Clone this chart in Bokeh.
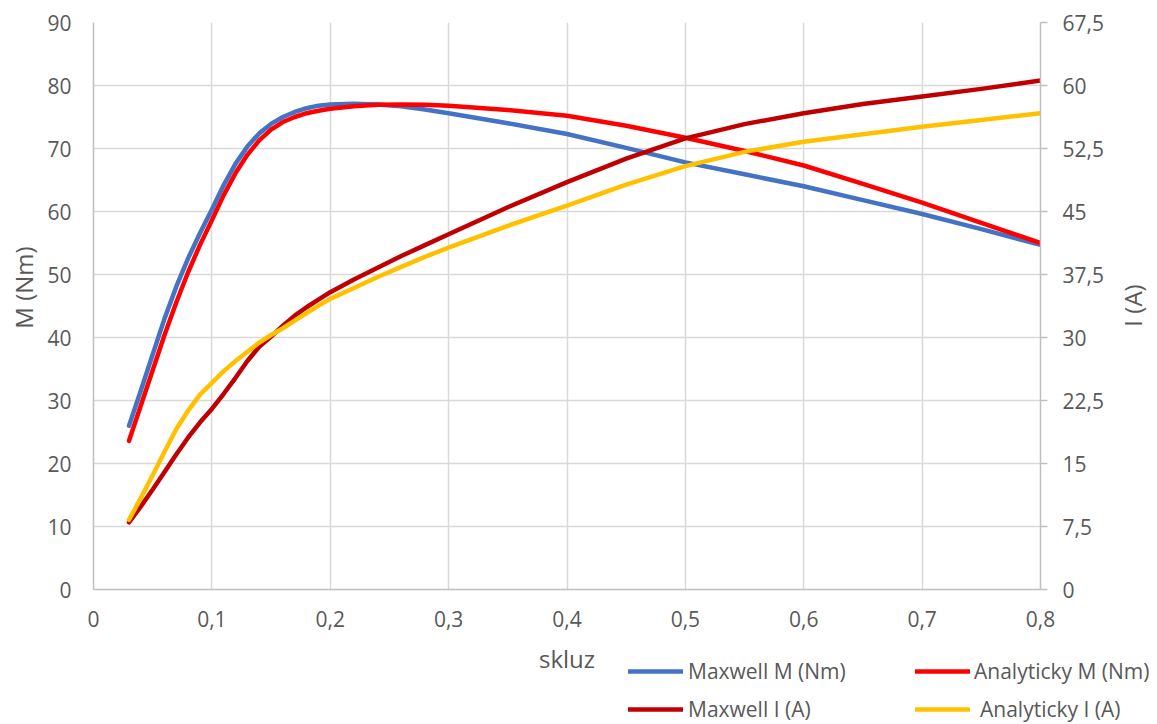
import math
from bokeh.plotting import figure
from bokeh.layouts import column, row
from bokeh.models import (Range1d, LinearAxis, FixedTicker, Legend, LegendItem, Label, Grid)
from bokeh.embed import file_html
from bokeh.resources import INLINE

# ---------------- data ----------------
skluz = [0.03, 0.04, 0.05, 0.06, 0.07, 0.08, 0.09, 0.1, 0.11, 0.12, 0.13, 0.14, 0.15,
         0.16, 0.17, 0.18, 0.19, 0.2, 0.22, 0.24, 0.26, 0.28, 0.3,
         0.35, 0.4, 0.45, 0.5, 0.55, 0.6, 0.65, 0.7, 0.75, 0.8]
maxwell_M = [26.0, 31.6, 37.3, 43.0, 48.1, 52.6, 56.6, 60.3, 64.2, 67.6, 70.3, 72.4, 73.9,
             75.0, 75.8, 76.4, 76.8, 77.0, 77.1, 77.0, 76.7, 76.2, 75.6,
             74.0, 72.3, 70.1, 67.8, 65.9, 64.0, 61.8, 59.6, 57.2, 54.7]
analyticky_M = [23.6, 29.2, 34.8, 40.4, 45.6, 50.4, 54.7, 58.6, 62.6, 66.1, 69.0, 71.3, 73.0,
                74.2, 75.0, 75.6, 76.0, 76.3, 76.7, 76.95, 77.0, 76.95, 76.8,
                76.1, 75.2, 73.6, 71.7, 69.6, 67.3, 64.4, 61.4, 58.2, 55.0]
maxwell_I = [8.0, 9.9, 11.9, 14.0, 16.1, 18.1, 19.9, 21.5, 23.3, 25.2, 27.2, 28.9, 30.1,
             31.4, 32.6, 33.6, 34.5, 35.4, 36.9, 38.3, 39.7, 41.0, 42.3,
             45.5, 48.5, 51.3, 53.7, 55.4, 56.7, 57.8, 58.7, 59.6, 60.6]
analyticky_I = [8.3, 10.9, 13.6, 16.4, 19.1, 21.3, 23.2, 24.6, 26.0, 27.2, 28.3, 29.4, 30.3,
                31.1, 32.0, 32.9, 33.8, 34.6, 35.9, 37.2, 38.4, 39.6, 40.7,
                43.3, 45.7, 48.2, 50.4, 52.1, 53.3, 54.2, 55.1, 55.9, 56.7]

x_ticks = [0, 0.1, 0.2, 0.3, 0.4, 0.5, 0.6, 0.7, 0.8]
x_tick_labels = ["0", "0,1", "0,2", "0,3", "0,4", "0,5", "0,6", "0,7", "0,8"]
m_ticks = [0, 10, 20, 30, 40, 50, 60, 70, 80, 90]
i_ticks = [0, 7.5, 15, 22.5, 30, 37.5, 45, 52.5, 60, 67.5]
i_tick_labels = ["0", "7,5", "15", "22,5", "30", "37,5", "45", "52,5", "60", "67,5"]

series_names = ["Maxwell M (Nm)", "Analyticky M (Nm)", "Maxwell I (A)", "Analyticky I (A)"]
colors = ["#4472C4", "#FF0000", "#C00000", "#FFC000"]

# ---------------- layout (page pixels) ----------------
FONT = "Open Sans"
FS = "21px"
FS_T = "24px"
TXT = "#595959"
W_TOTAL = 1156
H_MAIN, H_LEG = 640, 84
W_LEFT = 40                 # strip holding the left axis title
X_RIGHT = 1112              # where the strip holding the right axis title starts
FRAME_L, FRAME_R, FRAME_T, FRAME_B = 93, 1040, 22, 589
W_MAIN = X_RIGHT - W_LEFT

def strip(width, height, x0, y0):
    f = figure(width=width, height=height, output_backend="svg", toolbar_location=None,
               x_range=Range1d(x0, x0 + width), y_range=Range1d(y0 + height, y0),
               min_border=0, min_border_left=0, min_border_right=0,
               min_border_top=0, min_border_bottom=0,
               x_axis_type=None, y_axis_type=None)
    f.outline_line_color = None
    f.xgrid.visible = False
    f.ygrid.visible = False
    f.frame_align = False
    return f

p = figure(width=W_MAIN, height=H_MAIN, output_backend="svg", toolbar_location=None,
           x_range=Range1d(0, 0.8), y_range=Range1d(0, 90),
           min_border_left=FRAME_L - W_LEFT, min_border_right=X_RIGHT - FRAME_R,
           min_border_top=FRAME_T, min_border_bottom=H_MAIN - FRAME_B,
           x_axis_type=None, y_axis_type=None)
p.extra_y_ranges = {"I": Range1d(0, 67.5)}
p.outline_line_color = None
p.frame_align = False

def style_axis(ax):
    ax.axis_line_color = "#BFBFBF"
    ax.axis_line_width = 1.5
    ax.major_tick_line_color = None
    ax.minor_tick_line_color = None
    ax.major_tick_out = 0
    ax.major_tick_in = 0
    ax.major_label_text_font = FONT
    ax.major_label_text_font_size = FS
    ax.major_label_text_color = TXT

xax = LinearAxis(ticker=FixedTicker(ticks=x_ticks),
                 major_label_overrides=dict(zip(x_ticks, x_tick_labels)))
style_axis(xax)
xax.major_label_standoff = 21
p.add_layout(xax, "below")

yax = LinearAxis(ticker=FixedTicker(ticks=m_ticks))
style_axis(yax)
yax.major_label_standoff = 22
p.add_layout(yax, "left")

y2 = LinearAxis(y_range_name="I", ticker=FixedTicker(ticks=i_ticks),
                major_label_overrides=dict(zip(i_ticks, i_tick_labels)))
style_axis(y2)
y2.major_tick_line_color = "#BFBFBF"
y2.major_tick_line_width = 1.5
y2.major_tick_out = 7
y2.major_label_standoff = 15
p.add_layout(y2, "right")

p.add_layout(Grid(dimension=0, ticker=FixedTicker(ticks=x_ticks),
                  grid_line_color="#D9D9D9", grid_line_width=1.5))
p.add_layout(Grid(dimension=1, ticker=FixedTicker(ticks=m_ticks),
                  grid_line_color="#D9D9D9", grid_line_width=1.5))

LW = 4.5
kw = dict(line_width=LW, line_cap="round", line_join="round")
p.line(skluz, maxwell_M, line_color=colors[0], **kw)
p.line(skluz, analyticky_M, line_color=colors[1], **kw)
p.line(skluz, maxwell_I, line_color=colors[2], y_range_name="I", **kw)
p.line(skluz, analyticky_I, line_color=colors[3], y_range_name="I", **kw)

# ---------------- axis titles in side strips ----------------
tkw = dict(text_font=FONT, text_font_size=FS_T, text_color=TXT,
           text_align="center", text_baseline="middle")
p_left = strip(W_LEFT, H_MAIN, 0, 0)
p_left.add_layout(Label(x=22.5, y=287, text="M (Nm)", angle=math.pi / 2, **tkw))

p_right = strip(W_TOTAL - X_RIGHT, H_MAIN, X_RIGHT, 0)
p_right.add_layout(Label(x=1132, y=305, text="I (A)", angle=math.pi / 2, **tkw))

# ---------------- bottom strip: x-axis title and legend ----------------
p2 = strip(W_TOTAL, H_LEG, 0, H_MAIN)
p2.add_layout(Label(x=(FRAME_L + FRAME_R) / 2, y=658, text="skluz", **tkw))

nan = float("nan")
dummies = [p2.line([nan], [nan], line_color=c, **kw) for c in colors]
ITEM_H = 26
leg_left = [628, 915, 628, 915]
leg_center = [671.7, 671.7, 710.0, 710.0]
standoffs = [5, 4, 5, 10]
for r, name, lx, cy, so in zip(dummies, series_names, leg_left, leg_center, standoffs):
    bottom_from_base = (H_MAIN + H_LEG) - cy - ITEM_H / 2
    lg = Legend(items=[LegendItem(label=name, renderers=[r])],
                location=(lx, bottom_from_base),
                glyph_width=55, glyph_height=ITEM_H, label_height=ITEM_H,
                label_standoff=so, padding=0, margin=0, spacing=0,
                border_line_color=None, background_fill_alpha=0,
                label_text_font=FONT, label_text_font_size=FS,
                label_text_color=TXT)
    p2.add_layout(lg, "center")

layout = column(row(p_left, p, p_right, spacing=0), p2, spacing=0)
open("out.html", "w").write(file_html(layout, INLINE))
